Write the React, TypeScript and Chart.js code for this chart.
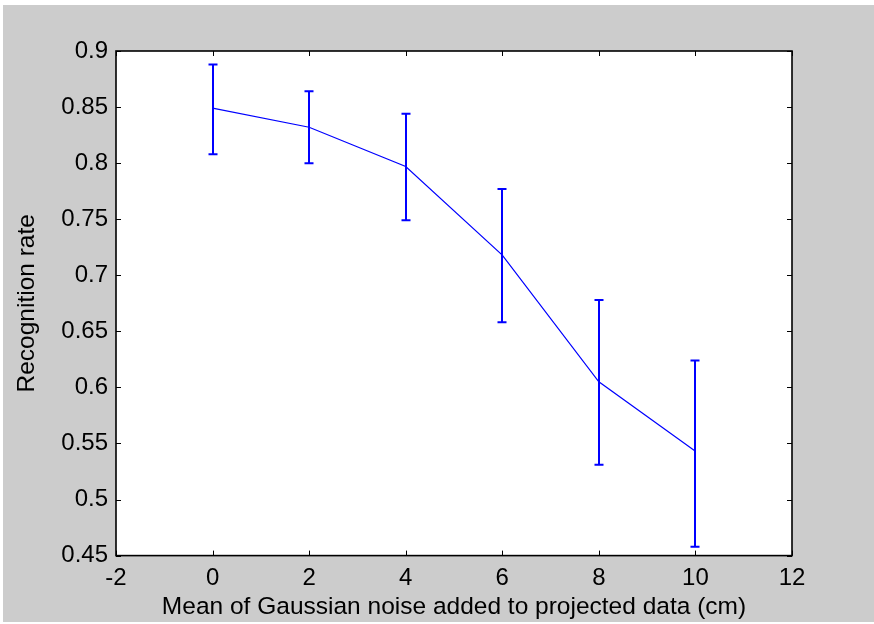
import React, { useEffect, useRef } from "react";
import { Chart, registerables } from "chart.js";

Chart.register(...registerables);

const noiseMeans = [0, 2, 4, 6, 8, 10];
const recognitionRate = [0.849, 0.832, 0.797, 0.718, 0.605, 0.543];
const errorUpper = [0.888, 0.864, 0.844, 0.777, 0.678, 0.624];
const errorLower = [0.808, 0.8, 0.749, 0.658, 0.531, 0.458];

const xTickValues = [-2, 0, 2, 4, 6, 8, 10, 12];
const xTickLabels = ["-2", "0", "2", "4", "6", "8", "10", "12"];
const yTickValues = [0.45, 0.5, 0.55, 0.6, 0.65, 0.7, 0.75, 0.8, 0.85, 0.9];
const yTickLabels = ["0.45", "0.5", "0.55", "0.6", "0.65", "0.7", "0.75", "0.8", "0.85", "0.9"];

const FONT = "'Liberation Sans', Arial, sans-serif";
const BLUE = "#0000ff";

const framePlugin = {
  id: "matlabFrame",
  beforeDraw(chart: any) {
    const { ctx, chartArea } = chart;
    ctx.save();
    ctx.fillStyle = "#ffffff";
    ctx.fillRect(chartArea.left, chartArea.top, chartArea.right - chartArea.left, chartArea.bottom - chartArea.top);
    ctx.restore();
  },
  afterDatasetsDraw(chart: any) {
    const { ctx, chartArea, scales } = chart;
    const xs = scales.x;
    const ys = scales.y;
    // error bars
    ctx.save();
    ctx.strokeStyle = BLUE;
    ctx.lineWidth = 2;
    const cap = 4.5;
    noiseMeans.forEach((xv, i) => {
      const px = Math.round(xs.getPixelForValue(xv));
      const pu = ys.getPixelForValue(errorUpper[i]);
      const pl = ys.getPixelForValue(errorLower[i]);
      ctx.beginPath();
      ctx.moveTo(px, pu);
      ctx.lineTo(px, pl);
      ctx.moveTo(px - cap, pu);
      ctx.lineTo(px + cap, pu);
      ctx.moveTo(px - cap, pl);
      ctx.lineTo(px + cap, pl);
      ctx.stroke();
    });
    ctx.restore();

    // frame + inward ticks
    ctx.save();
    ctx.strokeStyle = "#000000";
    ctx.lineWidth = 1;
    const tl = 5;
    ctx.beginPath();
    xTickValues.forEach((v) => {
      const px = Math.round(xs.getPixelForValue(v)) + 0.5;
      ctx.moveTo(px, chartArea.bottom);
      ctx.lineTo(px, chartArea.bottom - tl);
      ctx.moveTo(px, chartArea.top);
      ctx.lineTo(px, chartArea.top + tl);
    });
    yTickValues.forEach((v) => {
      const py = Math.round(ys.getPixelForValue(v)) + 0.5;
      ctx.moveTo(chartArea.left, py);
      ctx.lineTo(chartArea.left + tl, py);
      ctx.moveTo(chartArea.right, py);
      ctx.lineTo(chartArea.right - tl, py);
    });
    ctx.stroke();
    ctx.lineWidth = 1.6;
    ctx.strokeRect(chartArea.left, chartArea.top, chartArea.right - chartArea.left, chartArea.bottom - chartArea.top);
    ctx.restore();
  },
};

export default function App() {
  const canvasRef = useRef<HTMLCanvasElement | null>(null);

  useEffect(() => {
    document.body.style.margin = "0";
    const canvas = canvasRef.current;
    if (!canvas) return;
    const chart = new Chart(canvas, {
      type: "line",
      data: {
        datasets: [
          {
            label: "Recognition rate",
            data: noiseMeans.map((x, i) => ({ x, y: recognitionRate[i] })),
            borderColor: BLUE,
            borderWidth: 1.2,
            pointRadius: 0,
            fill: false,
            tension: 0,
          },
        ],
      },
      options: {
        animation: false,
        responsive: false,
        devicePixelRatio: 1,
        layout: { padding: { top: 46, right: 82, left: 0, bottom: 0 } },
        plugins: {
          legend: { display: false },
          tooltip: { enabled: false },
        },
        scales: {
          x: {
            type: "linear",
            min: -2,
            max: 12,
            grid: { display: false, drawTicks: false },
            border: { display: false },
            afterBuildTicks: (scale: any) => {
              scale.ticks = xTickValues.map((v) => ({ value: v }));
            },
            afterFit: (scale: any) => {
              scale.height = 66.4;
            },
            ticks: {
              padding: 8,
              color: "#000000",
              font: { family: FONT, size: 24 },
              maxRotation: 0,
              autoSkip: false,
              callback: (value: any) => {
                const idx = xTickValues.indexOf(Number(value));
                return idx >= 0 ? xTickLabels[idx] : "";
              },
            },
            title: {
              display: true,
              text: "Mean of Gaussian noise added to projected data (cm)",
              color: "#000000",
              font: { family: FONT, size: 24.5 },
              padding: { top: 0, bottom: 0 },
            },
          },
          y: {
            type: "linear",
            min: 0.45,
            max: 0.9,
            grid: { display: false, drawTicks: false },
            border: { display: false },
            afterBuildTicks: (scale: any) => {
              scale.ticks = yTickValues.map((v) => ({ value: v }));
            },
            afterFit: (scale: any) => {
              scale.width = 113;
            },
            ticks: {
              padding: 8,
              color: "#000000",
              font: { family: FONT, size: 24 },
              autoSkip: false,
              callback: (value: any) => {
                const idx = yTickValues.findIndex((v) => Math.abs(v - Number(value)) < 1e-9);
                return idx >= 0 ? yTickLabels[idx] : "";
              },
            },
            title: {
              display: true,
              text: "Recognition rate",
              color: "#000000",
              font: { family: FONT, size: 24.5 },
              padding: { top: 10, bottom: 0 },
            },
          },
        },
      },
      plugins: [framePlugin],
    });
    return () => chart.destroy();
  }, []);

  return (
    <div style={{ position: "absolute", left: 0, top: 0, width: 874, height: 624, background: "#ffffff" }}>
      <canvas
        ref={canvasRef}
        width={871}
        height={617}
        style={{ position: "absolute", left: 3, top: 5, width: 871, height: 617, background: "#cccccc" }}
      />
    </div>
  );
}
